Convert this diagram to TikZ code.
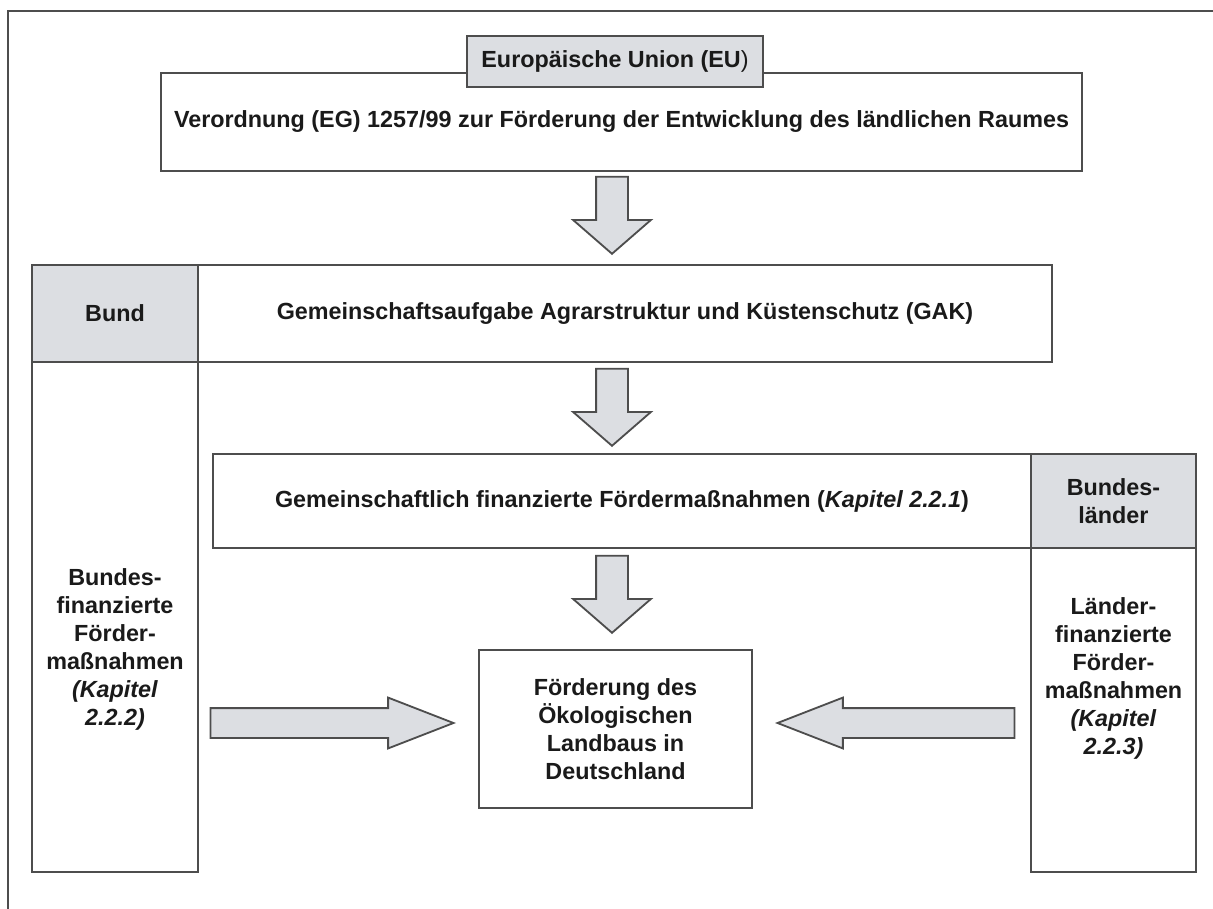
\documentclass[tikz,border=0pt]{standalone}
\usepackage{fontspec}
\setmainfont{Liberation Sans}
\usepackage{xcolor}
\definecolor{BoxGray}{HTML}{DCDEE2}
\definecolor{LineGray}{HTML}{4D4D4D}
\definecolor{TextBlack}{HTML}{1A1A1A}
\usetikzlibrary{shapes.arrows}
\newlength\pxl
\setlength\pxl{0.025cm}
\tikzset{
	txt/.style={text=TextBlack,font=\bfseries\fontsize{16.6}{19.9}\selectfont,align=center,inner sep=0pt},
	box/.style={txt,draw=LineGray,line width=1.3pt,fill=white,rectangle},
	headbox/.style={box,fill=BoxGray},
	blockarrow/.style={single arrow,draw=LineGray,line width=1.3pt,fill=BoxGray,inner sep=0pt,single arrow head indent=0pt,anchor=tip},
	downarrow/.style={blockarrow,inner ysep=15\pxl,minimum height=77\pxl,single arrow head extend=23\pxl,single arrow tip angle=98,rotate=-90},
	sidearrow/.style={blockarrow,inner ysep=14\pxl,single arrow head extend=10.5\pxl,single arrow tip angle=42.5}
}

\begin{document}
\begin{tikzpicture}[x=0.025cm,y=-0.025cm]
	\useasboundingbox (0,0) rectangle (1213,909);
	\draw[LineGray,line width=1.3pt] (8,909) -- (8,11) -- (1213,11); % frame
	
	% EU
	\node[box,minimum width=921\pxl,minimum height=98\pxl] (verord) at (621.5,122) {Verordnung (EG) 1257/99 zur Förderung der Entwicklung des ländlichen Raumes};
	\node[headbox,minimum width=296\pxl,minimum height=51\pxl] (eu) at (615,61.5) {Europäische Union (EU{\mdseries)}};
	
	% Bund
	\node[headbox,minimum width=166\pxl,minimum height=97\pxl] (bund) at (115,313.5) {Bund};
	\node[box,minimum width=854\pxl,minimum height=97\pxl] (gak) at (625,313.5) {Gemeinschaftsaufgabe Agrarstruktur und Küstenschutz (GAK)};
	\node[box,minimum width=166\pxl,minimum height=510\pxl] (bundcol) at (115,617) {};
	\node[txt] (bundtxt) at (115,649) {Bundes-\\finanzierte\\Förder-\\maßnahmen\\\textit{(Kapitel}\\\textit{2.2.2)}};
	
	% Laender
	\node[box,minimum width=818\pxl,minimum height=94\pxl] (gem) at (622,501) {Gemeinschaftlich finanzierte Fördermaßnahmen (\textit{Kapitel 2.2.1})};
	\node[headbox,minimum width=165\pxl,minimum height=94\pxl] (laender) at (1113.5,501) {Bundes-\\länder};
	\node[box,minimum width=165\pxl,minimum height=324\pxl] (laendcol) at (1113.5,710) {};
	\node[txt] (laendtxt) at (1113.5,678) {Länder-\\finanzierte\\Förder-\\maßnahmen\\\textit{(Kapitel}\\\textit{2.2.3)}};
	
	\node[box,minimum width=273\pxl,minimum height=158\pxl] (oeko) at (615.5,729) {Förderung des\\Ökologischen\\Landbaus in\\Deutschland};
	
	% arrows (placed by their tips)
	\node[downarrow] (arrA) at (612,255) {};
	\node[downarrow] (arrB) at (612,447) {};
	\node[downarrow] (arrC) at (612,634) {};
	\node[sidearrow,minimum height=243\pxl] (arrL) at (456,723) {};
	\node[sidearrow,minimum height=237\pxl,rotate=180] (arrR) at (775,723) {};
\end{tikzpicture}
\end{document}
